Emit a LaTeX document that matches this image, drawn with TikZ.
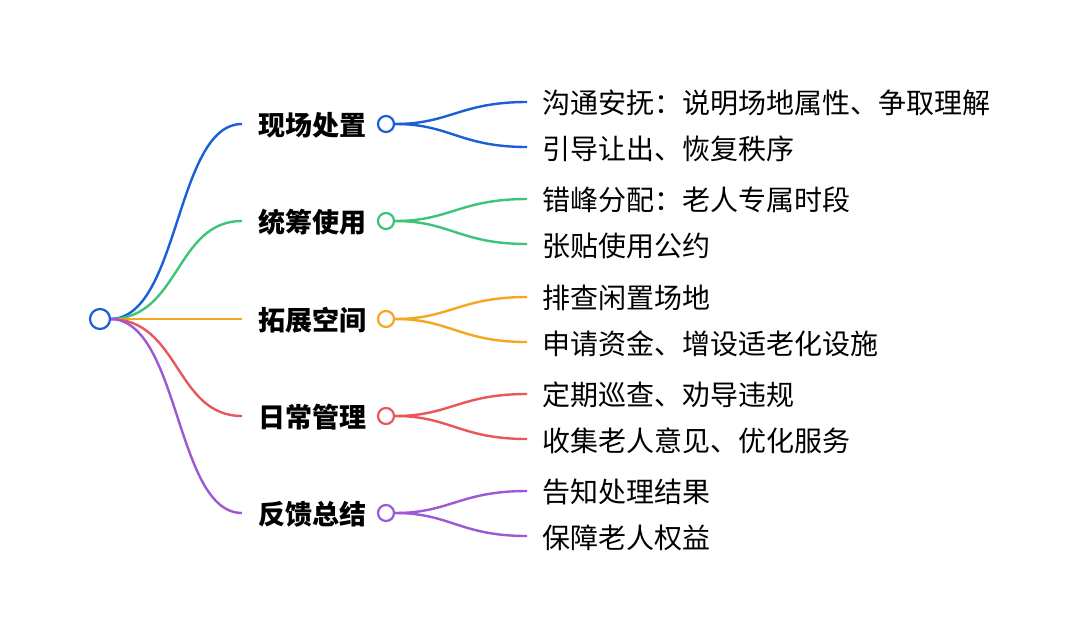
\documentclass[tikz,border=0pt]{standalone}
\usepackage{fontspec}
\setmainfont{Noto Sans CJK SC}
\begin{document}
\begin{tikzpicture}[x=1pt,y=-1pt,line width=2.4pt,
  dot/.style={circle,draw,fill=white,inner sep=0pt,minimum size=16pt,line width=2.2pt},
  main/.style={anchor=west,font=\fontsize{27}{30}\selectfont\bfseries,inner sep=0pt},
  leaf/.style={anchor=west,font=\fontsize{28}{32}\selectfont,inner sep=0pt}]
\useasboundingbox (0,0) rectangle (1080,638);
\fill[white] (0,0) rectangle (1080,638);
\definecolor{cA}{HTML}{1A5FD6}
\definecolor{cB}{HTML}{3CC47A}
\definecolor{cC}{HTML}{F5A623}
\definecolor{cD}{HTML}{E8575A}
\definecolor{cE}{HTML}{9B59D6}
\coordinate (r) at (110,319);
\foreach \i/\y/\c/\t/\a/\b in {
  1/124/cA/现场处置/沟通安抚：说明场地属性、争取理解/引导让出、恢复秩序,
  2/221/cB/统筹使用/错峰分配：老人专属时段/张贴使用公约,
  3/319/cC/拓展空间/排查闲置场地/申请资金、增设适老化设施,
  4/416/cD/日常管理/定期巡查、劝导违规/收集老人意见、优化服务,
  5/513/cE/反馈总结/告知处理结果/保障老人权益}{
  \coordinate (e\i) at (242,\y);
  \draw[\c] (r) .. controls (180,319) and (175,\y) .. (e\i);
  \node[main] (m\i) at (257,\y+1) {\t};
  \node[dot,draw=\c] (d\i) at (386,\y) {};
  \coordinate (u\i) at (527,\y-22);
  \coordinate (v\i) at (527,\y+23);
  \draw[\c] (d\i.east) .. controls (450,\y) and (460,\y-22) .. (u\i);
  \draw[\c] (d\i.east) .. controls (450,\y) and (460,\y+23) .. (v\i);
  \node[leaf] (p\i) at (541,\y-21) {\a};
  \node[leaf] (q\i) at (541,\y+25) {\b};
}
\node[dot,draw=cA,minimum size=20pt] (root) at (100,319) {};
\end{tikzpicture}
\end{document}
